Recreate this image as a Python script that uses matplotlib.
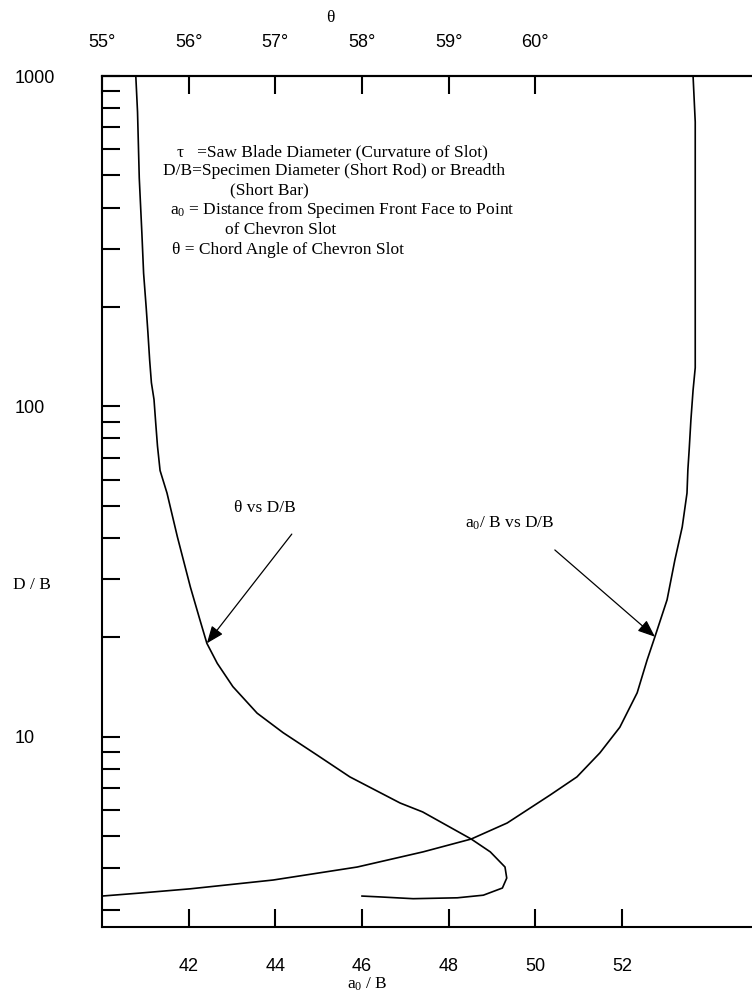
import matplotlib
matplotlib.use("Agg")
import matplotlib.pyplot as plt
from matplotlib.ticker import FixedLocator, LogLocator, NullFormatter

# ---------------- data ----------------
# theta vs D/B (theta in degrees, read on the top axis)
theta_deg = [55.39, 55.41, 55.43, 55.46, 55.48, 55.51, 55.53, 55.55, 55.57, 55.60,
             55.62, 55.64, 55.67, 55.75, 55.87, 56.02, 56.13, 56.21, 56.33, 56.51,
             56.79, 57.09, 57.48, 57.86, 58.44, 58.70, 59.26, 59.48, 59.65, 59.67,
             59.62, 59.40, 59.10, 58.59, 58.21, 58.00]
theta_DB = [1000, 778, 491, 335, 253, 199, 167, 138, 118, 105,
            89, 76, 64, 54.7, 40.3, 28.4, 22.6, 19.2, 16.7, 14.2,
            11.8, 10.3, 8.82, 7.57, 6.31, 5.93, 4.91, 4.49, 4.04, 3.74,
            3.49, 3.32, 3.26, 3.24, 3.28, 3.30]

# a0/B vs D/B (a0/B read on the bottom axis)
a0_ratio = [53.64, 53.69, 53.69, 53.64, 53.59, 53.55, 53.52, 53.50, 53.39, 53.22,
            53.04, 52.76, 52.58, 52.35, 51.95, 51.49, 50.96, 50.34, 49.35, 48.52,
            47.41, 45.89, 43.95, 42.03, 40.88, 40.0]
a0_DB = [1000, 726, 131, 112, 91, 73.9, 64.3, 54.7, 43.2, 34.3,
         26.0, 20.1, 17.1, 13.6, 10.7, 8.95, 7.57, 6.67, 5.49, 4.91,
         4.49, 4.04, 3.69, 3.47, 3.37, 3.30]

bottom_ticks = [42, 44, 46, 48, 50, 52]
top_ticks = [55, 56, 57, 58, 59, 60]
top_labels = ["55°", "56°", "57°", "58°", "59°", "60°"]
y_major = [10, 100, 1000]
y_labels = ["10", "100", "1000"]

legend_lines = [
    "τ   =Saw Blade Diameter (Curvature of Slot)",
    "D/B=Specimen Diameter (Short Rod) or Breadth",
    "(Short Bar)",
    r"a$_0$ = Distance from Specimen Front Face to Point",
    "of Chevron Slot",
    "θ = Chord Angle of Chevron Slot",
]

# ---------------- figure ----------------
W, H = 752, 996
plt.rcParams['mathtext.fontset'] = 'custom'
plt.rcParams['mathtext.rm'] = 'Liberation Serif'
plt.rcParams['mathtext.it'] = 'Liberation Serif:italic'
plt.rcParams['mathtext.bf'] = 'Liberation Serif:bold'
fig = plt.figure(figsize=(W / 100, H / 100), dpi=100)
fig.patch.set_facecolor('white')

L, T, R, B = 102, 76, 752, 927
ax = fig.add_axes([L / W, 1 - B / H, (R - L) / W, (B - T) / H])
ax.set_yscale('log')
ax.set_xlim(40, 55)
ax.set_ylim(2.66, 1000)

ax2 = ax.twiny()
ax2.set_xlim(55, 62.5)

lw_sp = 1.5
for a in (ax, ax2):
    a.spines['right'].set_visible(False)
    for s in a.spines.values():
        s.set_linewidth(lw_sp)
ax2.spines['left'].set_visible(False)
ax2.spines['bottom'].set_visible(False)

tickfont = 'Liberation Sans'
serif = 'Liberation Serif'
fs = 12.5

# bottom axis
ax.xaxis.set_ticks_position('bottom')
ax.set_xticks(bottom_ticks)
ax.set_xticklabels([str(v) for v in bottom_ticks], fontfamily=tickfont, fontsize=13)
ax.tick_params(axis='x', direction='in', length=13, width=1.5, pad=22)

# left axis (log)
ax.yaxis.set_major_locator(FixedLocator(y_major))
ax.set_yticklabels(y_labels, fontfamily=tickfont, fontsize=13, ha='left')
ax.yaxis.set_minor_locator(LogLocator(base=10, subs=[2, 3, 4, 5, 6, 7, 8, 9]))
ax.yaxis.set_minor_formatter(NullFormatter())
ax.tick_params(axis='y', which='both', direction='in', length=13, width=1.5, pad=63)

# top axis (theta)
ax2.set_xticks(top_ticks)
ax2.set_xticklabels(top_labels, fontfamily=tickfont, fontsize=13)
ax2.tick_params(axis='x', direction='in', length=13, width=1.5, pad=18)

# curves
ax.plot(a0_ratio, a0_DB, color='black', lw=1.2)
ax2.plot(theta_deg, theta_DB, color='black', lw=1.2)

# axis titles
ax.set_xlabel(r"a$_0$ / B", fontfamily=serif, fontsize=fs, va='center')
ax.xaxis.set_label_coords((367 - L) / (R - L), (B - 984) / (B - T))
ax.set_ylabel("D / B", fontfamily=serif, fontsize=fs, rotation=0, ha='left', va='center')
ax.yaxis.set_label_coords((13 - L) / (R - L), (B - 585) / (B - T))
ax2.set_xlabel("θ", fontfamily=serif, fontsize=fs, va='center')
ax2.xaxis.set_label_coords((330 - L) / (R - L), (B - 18) / (B - T))

# annotations
arrow = dict(arrowstyle='-|>,head_length=0.7,head_width=0.28', color='black',
             lw=0.9, shrinkA=0, shrinkB=0, mutation_scale=15)
ax.annotate('', xy=(42.42, 19.2), xytext=(44.38, 41.1), arrowprops=arrow)
ax.text(43.76, 49.3, "θ vs D/B", fontfamily=serif, fontsize=fs, ha='center', va='center')
ax.annotate('', xy=(52.76, 20.1), xytext=(50.45, 36.8), arrowprops=arrow)
ax.text(49.40, 44.4, r"a$_0$/ B vs D/B", fontfamily=serif, fontsize=fs, ha='center', va='center')

# definitions block
legend_pos = [(177, 152), (163, 171), (230, 190), (170, 210), (225, 230), (172, 250)]
for (px, py), txt in zip(legend_pos, legend_lines):
    fig.text(px / W, 1 - py / H, txt, fontfamily=serif, fontsize=fs, ha='left', va='center')

fig.savefig('out.png', dpi=100, facecolor='white')
